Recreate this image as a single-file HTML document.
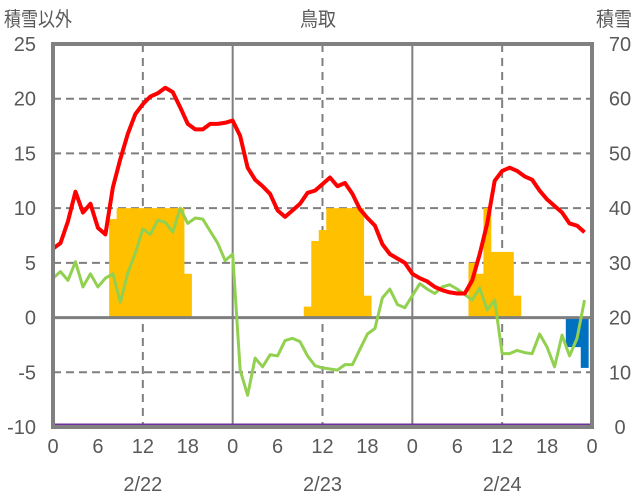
<!DOCTYPE html>
<html><head><meta charset="utf-8"><style>
body{margin:0;background:#fff;}
svg{display:block;font-family:"Liberation Sans","Noto Sans CJK JP",sans-serif;}
</style></head><body>
<svg id="chart" width="636" height="501" viewBox="0 0 636 501">
<text x="4" y="26" font-size="20" fill="#595959" textLength="68" lengthAdjust="spacingAndGlyphs">積雪以外</text>
<text x="318" y="26" font-size="20" fill="#595959" text-anchor="middle" textLength="36" lengthAdjust="spacingAndGlyphs">鳥取</text>
<text x="632" y="26" font-size="20" fill="#595959" text-anchor="end" textLength="36" lengthAdjust="spacingAndGlyphs">積雪</text>
<g id="grid"></g><g id="bars"></g><g id="lines"></g><g id="ticks"></g>
<rect x="53" y="44" width="539" height="383" fill="none" stroke="#808080" stroke-width="4"/>
</svg>
<script>
const leftTicks=[25,20,15,10,5,0,-5,-10];
const rightTicks=[70,60,50,40,30,20,10,0];
const hourLabels=["0","6","12","18"];
const dayLabels=["2/22","2/23","2/24"];
const temp=[6.3,6.8,8.8,11.5,9.6,10.4,8.2,7.6,11.9,14.5,16.8,18.6,19.5,20.2,20.5,21,20.6,19.2,17.7,17.2,17.2,17.7,17.7,17.8,
18,16.6,13.7,12.6,12.0,11.3,9.8,9.2,9.8,10.4,11.4,11.6,12.2,12.8,12.0,12.3,11.3,9.9,9.1,8.4,6.7,5.8,5.4,5.0,
4.0,3.6,3.3,2.8,2.5,2.3,2.2,2.2,3.4,5.8,8.6,12.5,13.4,13.7,13.4,12.9,12.6,11.6,10.8,10.2,9.6,8.6,8.4,7.8];
const dew=[3.6,4.2,3.4,5.1,2.8,4.0,2.8,3.6,4.0,1.4,4.1,5.9,8.1,7.6,8.9,8.7,7.8,10.0,8.6,9.1,9.0,7.9,6.8,5.2,
5.8,-4.8,-7.1,-3.7,-4.5,-3.4,-3.5,-2.1,-1.9,-2.2,-3.5,-4.4,-4.6,-4.7,-4.8,-4.3,-4.3,-2.9,-1.5,-1.0,1.8,2.6,1.2,0.9,
2.0,3.1,2.6,2.2,2.8,3.0,2.6,2.1,1.6,2.7,0.7,1.6,-3.3,-3.3,-3.0,-3.2,-3.3,-1.5,-2.7,-4.5,-1.6,-3.5,-1.9,1.6];
const precipHours=[8,9,10,11,12,13,14,15,16,17,18, 34,35,36,37,38,39,40,41,42, 56,57,58,59,60,61,62];
const precipVals=[9,10,10,10,10,10,10,10,10,10,4, 1,7,8,10,10,10,10,10,2, 5,4,10,6,6,6,2];
const negHours=[69,70,71];
const negVals=[-2.7,-2.7,-4.6];
const snowDepth=new Array(72).fill(0);

const NS="http://www.w3.org/2000/svg";
const X0=53,X1=592,Y0=44,Y1=427;
const xs=h=>X0+(X1-X0)*h/72;
const yL=v=>Y1-(v+10)/35*(Y1-Y0);
const yR=v=>Y1-v/70*(Y1-Y0);
function mk(tag,attrs,parent){const e=document.createElementNS(NS,tag);for(const k in attrs)e.setAttribute(k,attrs[k]);document.getElementById(parent).appendChild(e);return e;}

leftTicks.forEach(v=>{
  if(v!==25&&v!==-10&&v!==0){const g=mk('line',{x1:X0,x2:X1,y1:yL(v),y2:yL(v),stroke:'#7f7f7f','stroke-width':2,'stroke-dasharray':'8,5'},'grid');
  
  }
  const t=mk('text',{x:36,y:yL(v)+7,'font-size':20,fill:'#595959','text-anchor':'end'},'ticks');t.textContent=v;
  
  
});
rightTicks.forEach(v=>{
  const t=mk('text',{x:620,y:yR(v)+7,'font-size':20,fill:'#595959','text-anchor':'middle'},'ticks');t.textContent=v;
  
  
});
for(let d=0;d<3;d++){
  const m=mk('line',{x1:xs(d*24+12),x2:xs(d*24+12),y1:Y0,y2:Y1,stroke:'#7f7f7f','stroke-width':2,'stroke-dasharray':'8,6'},'grid');
  
  
  if(d>0){const s=mk('line',{x1:xs(d*24),x2:xs(d*24),y1:Y0,y2:Y1,stroke:'#7f7f7f','stroke-width':2},'grid');
  
  }
  hourLabels.forEach((l,i)=>{const t=mk('text',{x:xs(d*24+i*6),y:453,'font-size':20,fill:'#595959','text-anchor':'middle'},'ticks');t.textContent=l;
  
  });
  const dl=mk('text',{x:xs(d*24+12),y:491,'font-size':20,fill:'#595959','text-anchor':'middle'},'ticks');dl.textContent=dayLabels[d];
  
  
}
const endL=mk('text',{x:X1,y:453,'font-size':20,fill:'#595959','text-anchor':'middle'},'ticks');endL.textContent="0";



precipHours.forEach((h,i)=>{const v=precipVals[i];
  const b=mk('rect',{x:xs(h-0.5),width:xs(1)-X0+0.4,y:yL(v),height:yL(0)-yL(v),fill:'#ffc000'},'bars');
  
  });
negHours.forEach((h,i)=>{const v=negVals[i];
  const b=mk('rect',{x:xs(h-0.5),width:xs(1)-X0+0.4,y:yL(0),height:yL(v)-yL(0),fill:'#0070c0'},'bars');
  
  });
const zero=mk('line',{x1:X0,x2:X1,y1:yL(0),y2:yL(0),stroke:'#7f7f7f','stroke-width':3},'bars');



function poly(arr,fy,color,w,name){const p=mk('polyline',{points:arr.map((v,i)=>xs(i)+','+fy(v)).join(' '),fill:'none',stroke:color,'stroke-width':w,'stroke-linejoin':'round'},'lines');
  
  }
poly(dew,yL,'#92d050',3,'dewpoint-line');
poly(temp,yL,'#ff0000',4,'temperature-line');
const sd=mk('polyline',{points:snowDepth.map((v,i)=>xs(i)+','+(yR(v)-2)).concat([X1+','+(yR(0)-2)]).join(' '),fill:'none',stroke:'#7030a0','stroke-width':3},'lines');


</script>
</body></html>
